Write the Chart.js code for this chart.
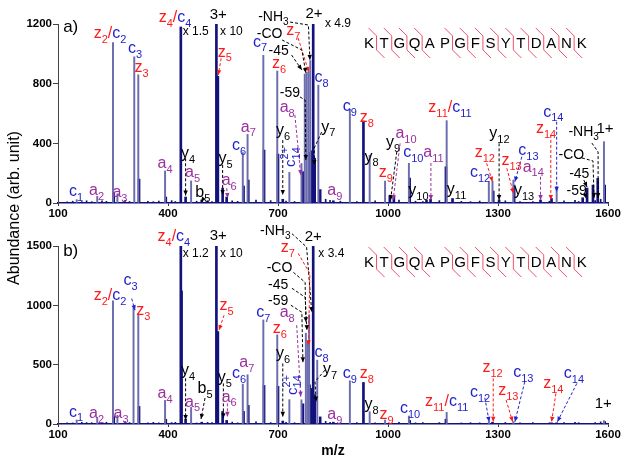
<!DOCTYPE html>
<html>
<head>
<meta charset="utf-8">
<script src="https://cdn.jsdelivr.net/npm/chart.js@4.4.0/dist/chart.umd.min.js"></script>
<style>
    body { margin: 0; background: #fff; width: 627px; height: 465px; position: relative; overflow: hidden; font-family: "Liberation Sans", Arial, sans-serif; }
    canvas { position: absolute; left: 0; }
    #chartA { top: 0; }
    #chartB { top: 222px; }
    #ytitle { position: absolute; left: -86px; top: 198px; width: 200px; height: 20px; line-height: 20px; text-align: center; font-size: 16px; color: #000; transform: rotate(-90deg); }
</style>
</head>
<body>
<canvas id="chartA" width="627" height="222"></canvas>
<canvas id="chartB" width="627" height="243"></canvas>
<div id="ytitle">Abundance (arb. unit)</div>
<script>
// ---- data ----
const mzTicks = [100, 400, 700, 1000, 1300, 1600];
const sequence = 'KTGQAPGFSYTDANK';
const cleavages = [1, 2, 3, 4, 6, 7, 8, 9, 10, 11, 12, 13, 14];

// panel a) peaks
const aLightMz = [151, 207, 250, 262, 308, 319, 392, 463, 604, 617, 660, 698, 731, 764, 773, 778, 783, 788, 810, 896, 950, 992, 1057, 1160, 1275, 1285, 1342, 1460, 1589];
const aLightInt = [22, 45, 1075, 62, 980, 860, 215, 148, 338, 460, 990, 885, 205, 265, 865, 875, 880, 955, 790, 628, 320, 147, 266, 552, 143, 147, 154, 110, 411];
const aDarkMz = [252, 321, 394, 435, 448, 492, 532, 536, 549, 560, 606, 619, 662, 700, 713, 768, 786, 792, 796, 800, 815, 851, 933, 1005, 1016, 1059, 1105, 1116, 1158, 1176, 1287, 1303, 1344, 1416, 1446, 1531, 1543, 1559, 1572, 1591];
const aDarkInt = [70, 160, 40, 1180, 40, 20, 1200, 850, 100, 40, 114, 154, 355, 328, 25, 210, 340, 350, 1200, 300, 90, 15, 550, 50, 45, 167, 20, 25, 243, 30, 80, 20, 120, 20, 30, 35, 100, 120, 165, 120];

// panel b) peaks
const bLightMz = [151, 207, 250, 262, 306, 319, 392, 463, 604, 617, 660, 698, 731, 764, 776, 781, 785, 807, 896, 950, 992, 1057, 1160, 1275, 1342, 1589];
const bLightInt = [34, 50, 1037, 73, 975, 928, 199, 140, 336, 415, 877, 751, 205, 204, 765, 700, 920, 538, 364, 104, 34, 67, 98, 25, 20, 28];
const bDarkMz = [252, 321, 394, 435, 437, 448, 492, 532, 536, 549, 560, 606, 619, 662, 700, 713, 768, 786, 792, 796, 800, 815, 851, 933, 1059, 1158, 1285, 1446, 1460, 1591];
const bDarkInt = [64, 148, 40, 1500, 1121, 40, 15, 1500, 779, 106, 30, 106, 157, 325, 317, 25, 170, 330, 300, 1500, 247, 60, 15, 350, 30, 40, 15, 10, 10, 20];

// baseline grass
const noiseMz = [125, 140, 165, 178, 192, 220, 232, 283, 295, 345, 360, 375, 410, 420, 478, 508, 520, 575, 590, 640, 680, 722, 745, 830, 842, 870, 915, 965, 1030, 1075, 1095, 1140, 1200, 1225, 1250, 1320, 1360, 1395, 1440, 1480, 1510, 1520, 1565, 1580];
const aNoiseInt = [8, 12, 10, 15, 9, 14, 11, 18, 10, 12, 9, 13, 16, 10, 12, 15, 9, 14, 11, 20, 16, 13, 10, 25, 18, 12, 10, 14, 20, 12, 10, 16, 11, 9, 13, 15, 10, 9, 12, 14, 18, 10, 16, 25];
const bNoiseInt = [10, 9, 14, 12, 11, 10, 15, 20, 12, 9, 14, 10, 12, 14, 9, 13, 11, 16, 10, 18, 12, 15, 11, 22, 14, 10, 12, 9, 15, 10, 13, 12, 9, 11, 10, 13, 9, 12, 10, 12, 15, 11, 13, 18];

// ---- styling ----
const FONT = '"Liberation Sans", Arial, sans-serif';
const NAVY = '#12127a';
const LIGHT = '#6c6cae';
const R = '#ff1a1a', B = '#2222cc', P = '#9b2f9e', K = '#000000';

// labels: [mz, abundance, parts, align, size]; part = [text, subscript, colour, superscript]
const labelsA = [
    [114, 1146, [['a)', '', K]], 'l', 17],
    [149, 47, [['c', '1', B]]], [205, 54, [['a', '2', P]]], [269, 42, [['a', '3', P]]],
    [242, 1108, [['z', '2', R], ['/', '', R], ['c', '2', B]]],
    [310, 1003, [['c', '3', B]]], [328, 880, [['z', '3', R]]], [392, 232, [['a', '4', P]]],
    [419, 1215, [['z', '4', R], ['/', '', R], ['c', '4', B]]],
    [440, 1126, [['x 1.5', '', K]], 'l', 12],
    [537, 1232, [['3+', '', K]], 'c', 15],
    [542, 1126, [['x 10', '', K]], 'l', 12],
    [555, 981, [['z', '5', R]]], [651, 1048, [['c', '7', B]]], [703, 903, [['z', '6', R]]],
    [646, 1222, [['-NH', '3', K]], 'l', 14], [642, 1104, [['-CO', '', K]], 'l', 14],
    [674, 992, [['-45', '', K]], 'l', 14], [705, 713, [['-59', '', K]], 'l', 14],
    [742, 1126, [['z', '7', R]]], [725, 612, [['a', '8', P]]], [714, 456, [['y', '6', K]]],
    [733, 308, [['c', '14', B, '2+']], 'r'],
    [619, 478, [['a', '7', P]]], [594, 355, [['c', '6', B]]], [455, 300, [['y', '4', K]]],
    [467, 176, [['a', '5', P]]], [495, 42, [['b', '5', K]]], [557, 266, [['y', '5', K]]],
    [567, 121, [['a', '6', P]]],
    [798, 1238, [['2+', '', K]], 'c', 15], [828, 1182, [['x 4.9', '', K]], 'l', 12],
    [819, 813, [['c', '8', B]]], [837, 478, [['y', '7', K]]], [855, 54, [['a', '9', P]]],
    [896, 617, [['c', '9', B]]], [942, 545, [['z', '8', R]]], [955, 277, [['y', '8', K]]],
    [994, 176, [['z', '9', R]]], [1014, 377, [['y', '9', K]]], [1049, 434, [['a', '10', P]]],
    [1069, 310, [['c', '10', B]]], [1083, 54, [['y', '10', K]]], [1124, 310, [['a', '11', P]]],
    [1169, 612, [['z', '11', R], ['/', '', R], ['c', '11', B]]],
    [1187, 58, [['y', '11', K]]], [1251, 176, [['c', '12', B]]], [1264, 310, [['z', '12', R]]],
    [1304, 434, [['y', '12', K]]], [1337, 255, [['z', '13', R]]], [1383, 322, [['c', '13', B]]],
    [1371, 54, [['y', '13', K]]], [1396, 210, [['a', '14', P]]], [1431, 471, [['z', '14', R]]],
    [1451, 579, [['c', '14', B]]],
    [1492, 449, [['-NH', '3', K]], 'l', 14], [1465, 293, [['-CO', '', K]], 'l', 14],
    [1494, 166, [['-45', '', K]], 'l', 14], [1487, 54, [['-59', '', K]], 'l', 14],
    [1592, 467, [['1+', '', K]], 'c', 15]
];

const labelsB = [
    [114, 1419, [['b)', '', K]], 'l', 17],
    [149, 62, [['c', '1', B]]], [205, 53, [['a', '2', P]]], [272, 53, [['a', '3', P]]],
    [242, 1043, [['z', '2', R], ['/', '', R], ['c', '2', B]]],
    [298, 1169, [['c', '3', B]]], [333, 917, [['z', '3', R]]], [392, 221, [['a', '4', P]]],
    [416, 1539, [['z', '4', R], ['/', '', R], ['c', '4', B]]],
    [440, 1407, [['x 1.2', '', K]], 'l', 12],
    [537, 1547, [['3+', '', K]], 'c', 15],
    [542, 1407, [['x 10', '', K]], 'l', 12],
    [560, 959, [['z', '5', R]]], [660, 902, [['c', '7', B]]], [705, 763, [['z', '6', R]]],
    [651, 1595, [['-NH', '3', K]], 'l', 14], [669, 1281, [['-CO', '', K]], 'l', 14],
    [673, 1141, [['-45', '', K]], 'l', 14], [673, 1001, [['-59', '', K]], 'l', 14],
    [727, 1449, [['z', '7', R]]], [725, 902, [['a', '8', P]]], [714, 552, [['y', '6', K]]],
    [737, 328, [['c', '14', B, '2+']], 'r'],
    [615, 482, [['a', '7', P]]], [594, 384, [['c', '6', B]]], [455, 412, [['y', '4', K]]],
    [467, 146, [['a', '5', P]]], [501, 258, [['b', '5', K]]], [555, 356, [['y', '5', K]]],
    [567, 188, [['a', '6', P]]],
    [796, 1539, [['2+', '', K]], 'c', 15], [810, 1407, [['x 3.4', '', K]], 'l', 12],
    [819, 566, [['c', '8', B]]], [842, 418, [['y', '7', K]]], [855, 42, [['a', '9', P]]],
    [896, 390, [['c', '9', B]]], [942, 384, [['z', '8', R]]], [955, 123, [['y', '8', K]]],
    [996, 42, [['z', '9', R]]], [1060, 90, [['c', '10', B]]],
    [1160, 154, [['z', '11', R], ['/', '', R], ['c', '11', B]]],
    [1251, 230, [['c', '12', B]]], [1285, 440, [['z', '12', R]]], [1328, 244, [['z', '13', R]]],
    [1369, 398, [['c', '13', B]]], [1451, 300, [['z', '14', R]]], [1507, 384, [['c', '14', B]]],
    [1587, 132, [['1+', '', K]], 'c', 15]
];

// dashed leader arrows: [colour, [[mz, abundance], ...]]
const arrowsA = [
    [R, [[545, 970], [537, 858]]], [K, [[448, 300], [448, 50]]], [K, [[549, 255], [549, 54]]],
    [P, [[560, 99], [563, 34]]], [K, [[498, 34], [490, 8]]],
    [K, [[733, 1213], [783, 1193], [787, 959]]], [R, [[755, 1106], [784, 878]]],
    [K, [[711, 1093], [765, 1026], [776, 872]]], [K, [[737, 992], [765, 892]]],
    [K, [[760, 711], [774, 690], [776, 288]]], [P, [[746, 590], [762, 188]]],
    [K, [[713, 422], [713, 54]]], [K, [[819, 476], [799, 369], [799, 255]]],
    [K, [[1024, 344], [1007, 20]]], [P, [[1033, 400], [1014, 20]]], [P, [[1117, 268], [1117, 20]]],
    [R, [[1269, 266], [1285, 143]]], [K, [[1303, 400], [1303, 20]]], [R, [[1324, 233], [1342, 65]]],
    [B, [[1365, 310], [1346, 143]]], [P, [[1416, 176], [1416, 20]]], [R, [[1444, 456], [1444, 20]]],
    [B, [[1460, 545], [1460, 76]]],
    [K, [[1556, 402], [1573, 342], [1573, 34]]], [K, [[1529, 302], [1559, 282], [1562, 34]]],
    [K, [[1534, 154], [1543, 107]]], [K, [[1537, 60], [1541, 30]]]
];

const arrowsB = [
    [B, [[301, 1057], [310, 959]]], [R, [[553, 917], [539, 791]]], [K, [[448, 385], [448, 34]]],
    [K, [[501, 219], [490, 42]]], [K, [[551, 342], [551, 48]]], [P, [[562, 174], [562, 61]]],
    [K, [[738, 1604], [778, 1491], [792, 944]]], [R, [[755, 1438], [787, 1267], [783, 664]]],
    [K, [[742, 1278], [774, 1194], [776, 858]]], [K, [[738, 1144], [774, 1068], [779, 791]]],
    [K, [[735, 1001], [765, 942], [768, 521]]], [P, [[751, 833], [762, 230]]],
    [K, [[713, 510], [713, 61]]], [K, [[828, 454], [801, 356], [804, 188]]],
    [B, [[1264, 221], [1276, 19]]], [R, [[1287, 384], [1287, 19]]], [R, [[1322, 202], [1340, 19]]],
    [B, [[1373, 356], [1346, 19]]], [R, [[1458, 258], [1446, 19]]], [B, [[1515, 342], [1462, 19]]]
];

function toXY(xs, ys) {
    return xs.map((x, i) => ({ x: x, y: ys[i] }));
}

function drawLabel(ctx, x, y, parts, align, size) {
    size = size || 16;
    const sub = Math.round(size * 0.7);
    let w = 0;
    parts.forEach(p => {
        ctx.font = size + 'px ' + FONT;
        w += ctx.measureText(p[0]).width;
        if (p[1]) { ctx.font = sub + 'px ' + FONT; w += ctx.measureText(p[1]).width; }
    });
    let cx = align === 'l' ? x : x - w / 2;
    parts.forEach(p => {
        ctx.fillStyle = p[2];
        ctx.font = size + 'px ' + FONT;
        ctx.fillText(p[0], cx, y);
        cx += ctx.measureText(p[0]).width;
        if (p[1]) {
            ctx.font = sub + 'px ' + FONT;
            ctx.fillText(p[1], cx, y + size * 0.3);
            if (p[3]) ctx.fillText(p[3], cx, y - size * 0.45);
            cx += ctx.measureText(p[1]).width;
        }
    });
}

function drawArrow(ctx, pts, color) {
    ctx.strokeStyle = color;
    ctx.fillStyle = color;
    ctx.lineWidth = 1;
    ctx.setLineDash([3, 2]);
    ctx.beginPath();
    pts.forEach((p, i) => i ? ctx.lineTo(p[0], p[1]) : ctx.moveTo(p[0], p[1]));
    ctx.stroke();
    ctx.setLineDash([]);
    const a = pts[pts.length - 2], b = pts[pts.length - 1];
    const ang = Math.atan2(b[1] - a[1], b[0] - a[0]);
    ctx.beginPath();
    ctx.moveTo(b[0], b[1]);
    ctx.lineTo(b[0] - 5 * Math.cos(ang) + 2.2 * Math.sin(ang), b[1] - 5 * Math.sin(ang) - 2.2 * Math.cos(ang));
    ctx.lineTo(b[0] - 5 * Math.cos(ang) - 2.2 * Math.sin(ang), b[1] - 5 * Math.sin(ang) + 2.2 * Math.cos(ang));
    ctx.closePath();
    ctx.fill();
}

const annotate = {
    id: 'annotate',
    afterDatasetsDraw(chart, args, opts) {
        const ctx = chart.ctx, xs = chart.scales.x, ys = chart.scales.y;
        const px = v => xs.getPixelForValue(v), py = v => ys.getPixelForValue(v);
        ctx.save();
        opts.arrows.forEach(a => drawArrow(ctx, a[1].map(p => [px(p[0]), py(p[1])]), a[0]));
        ctx.textBaseline = 'alphabetic';
        ctx.textAlign = 'left';
        opts.labels.forEach(l => {
            if (l[3] === 'r') {
                ctx.save();
                ctx.translate(px(l[0]), py(l[1]));
                ctx.rotate(-Math.PI / 2);
                drawLabel(ctx, 0, 5, l[2], 'c', 15);
                ctx.restore();
            } else {
                drawLabel(ctx, px(l[0]), py(l[1]), l[2], l[3], l[4]);
            }
        });
        // peptide sequence with cleavage marks
        const x0 = px(opts.seq[0]), yc = py(opts.seq[1]), dx = 15.2;
        ctx.strokeStyle = '#f0506a';
        ctx.lineWidth = 1;
        cleavages.forEach(i => {
            const xm = x0 + (i - 0.5) * dx;
            ctx.beginPath();
            ctx.moveTo(xm - 8, yc - 15);
            ctx.lineTo(xm, yc - 7);
            ctx.lineTo(xm, yc + 7);
            ctx.lineTo(xm + 8, yc + 15);
            ctx.stroke();
        });
        ctx.fillStyle = '#000';
        ctx.font = '15px ' + FONT;
        ctx.textAlign = 'center';
        ctx.textBaseline = 'middle';
        sequence.split('').forEach((c, i) => ctx.fillText(c, x0 + i * dx, yc + 1));
        ctx.restore();
    }
};

function makeChart(id, cfg) {
    return new Chart(document.getElementById(id), {
        type: 'bar',
        data: {
            datasets: [
                { data: toXY(noiseMz, cfg.noise), backgroundColor: NAVY, barThickness: 1, grouped: false },
                { data: toXY(cfg.lightMz, cfg.lightInt), backgroundColor: LIGHT, barThickness: 1.3, grouped: false },
                { data: toXY(cfg.darkMz, cfg.darkInt), backgroundColor: NAVY, barThickness: 2, grouped: false }
            ]
        },
        options: {
            responsive: false,
            animation: false,
            devicePixelRatio: 1,
            layout: { padding: { top: 24, right: 19, left: 0, bottom: 0 } },
            plugins: {
                legend: { display: false },
                tooltip: { enabled: false },
                annotate: { labels: cfg.labels, arrows: cfg.arrows, seq: cfg.seq }
            },
            scales: {
                x: {
                    type: 'linear', min: 100, max: 1600, offset: false,
                    afterBuildTicks: s => { s.ticks = mzTicks.map(v => ({ value: v })); },
                    ticks: { font: { family: FONT, size: 11.5, weight: 'bold' }, color: '#000', padding: 1, maxRotation: 0, callback: v => String(v) },
                    grid: { drawOnChartArea: false, offset: false, tickLength: 3, color: '#333' },
                    border: { color: NAVY, width: 1.5 },
                    title: { display: cfg.title, text: 'm/z', color: '#000', font: { family: FONT, size: 14, weight: 'bold' }, padding: { top: 0, bottom: 5 } },
                    afterFit: s => { s.height = cfg.xh; }
                },
                y: {
                    min: 0, max: cfg.ymax,
                    ticks: { stepSize: cfg.step, font: { family: FONT, size: 11.5, weight: 'bold' }, color: '#000', padding: 1, callback: v => String(v) },
                    grid: { drawOnChartArea: false, tickLength: 5, color: '#444' },
                    border: { color: '#444', width: 1 },
                    afterFit: s => { s.width = 58; }
                }
            }
        },
        plugins: [annotate]
    });
}

makeChart('chartA', {
    noise: aNoiseInt, lightMz: aLightMz, lightInt: aLightInt, darkMz: aDarkMz, darkInt: aDarkInt,
    labels: labelsA, arrows: arrowsA, seq: [948, 1073], ymax: 1200, step: 400, xh: 19, title: false
});
makeChart('chartB', {
    noise: bNoiseInt, lightMz: bLightMz, lightInt: bLightInt, darkMz: bDarkMz, darkInt: bDarkInt,
    labels: labelsB, arrows: arrowsB, seq: [948, 1365], ymax: 1500, step: 500, xh: 41, title: true
});
</script>
</body>
</html>
